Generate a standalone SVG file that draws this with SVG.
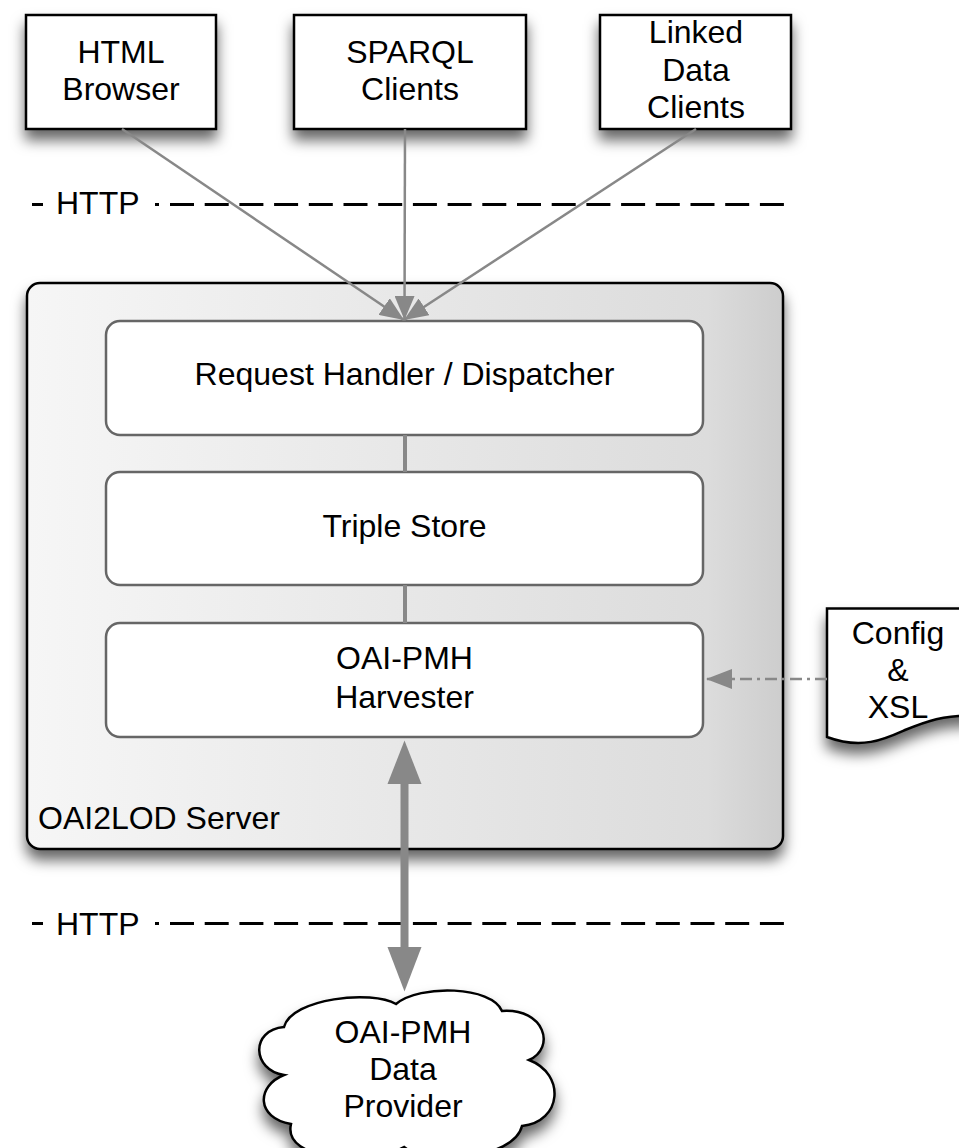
<svg xmlns="http://www.w3.org/2000/svg" width="959" height="1148" viewBox="0 0 959 1148">
<defs>
<style>
text{font-family:"Liberation Sans",Arial,Helvetica,sans-serif;font-size:32px;fill:#000}
.c{text-anchor:middle}
.box{fill:#fff;stroke:#000;stroke-width:2.5}
.inner{fill:#fff;stroke:#666;stroke-width:2.5}
.conn{stroke:#888;stroke-width:2.5;fill:none}
.http{stroke:#000;stroke-width:3;fill:none}
</style>
<linearGradient id="srv" x1="0" y1="0" x2="1" y2="0">
<stop offset="0" stop-color="#f6f6f6"/>
<stop offset="0.9" stop-color="#dcdcdc"/>
<stop offset="1" stop-color="#cdcdcd"/>
</linearGradient>
<filter id="sh" x="-20%" y="-20%" width="140%" height="160%">
<feDropShadow dx="0" dy="10" stdDeviation="7" flood-color="#000" flood-opacity="0.6"/>
</filter>
<marker id="ah" viewBox="0 0 24 20" refX="24" refY="10" markerWidth="24" markerHeight="20" markerUnits="userSpaceOnUse" orient="auto">
<path d="M0,0 L24,10 L0,20 Z" fill="#888"/>
</marker>
<marker id="ah2" viewBox="0 0 26 20" refX="26" refY="10" markerWidth="26" markerHeight="20" markerUnits="userSpaceOnUse" orient="auto">
<path d="M0,0 L26,10 L0,20 Z" fill="#888"/>
</marker>
</defs>
<rect width="959" height="1148" fill="#fff"/>

<g id="http-top">
<line class="http" x1="32" y1="204.5" x2="43" y2="204.5"/>
<line class="http" x1="155" y1="204.5" x2="159" y2="204.5"/>
<line class="http" x1="170" y1="204.5" x2="784" y2="204.5" stroke-dasharray="24 10.7"/>
<text x="56" y="213.5">HTTP</text>
</g>
<g id="http-bottom">
<line class="http" x1="32" y1="923.5" x2="43" y2="923.5"/>
<line class="http" x1="155" y1="923.5" x2="159" y2="923.5"/>
<line class="http" x1="170" y1="923.5" x2="784" y2="923.5" stroke-dasharray="24 10.7"/>
<text x="56" y="935">HTTP</text>
</g>

<g id="html-browser">
<rect class="box" x="26" y="15" width="190" height="114" filter="url(#sh)"/>
<text class="c" x="121" y="63">HTML</text>
<text class="c" x="121" y="100">Browser</text>
</g>
<g id="sparql-clients">
<rect class="box" x="294" y="15" width="232" height="114" filter="url(#sh)"/>
<text class="c" x="410" y="63">SPARQL</text>
<text class="c" x="410" y="100">Clients</text>
</g>
<g id="linked-data-clients">
<rect class="box" x="600" y="15" width="191" height="114" filter="url(#sh)"/>
<text class="c" x="696" y="43">Linked</text>
<text class="c" x="696" y="80.5">Data</text>
<text class="c" x="696" y="118">Clients</text>
</g>

<g id="oai2lod-server">
<rect x="27" y="283" width="756" height="566" rx="13" fill="url(#srv)" stroke="#000" stroke-width="2.5" filter="url(#sh)"/>
<text x="38" y="829">OAI2LOD Server</text>
</g>
<g id="request-handler">
<rect class="inner" x="106" y="321" width="597" height="114" rx="14"/>
<text class="c" x="404.5" y="385">Request Handler / Dispatcher</text>
</g>
<g id="triple-store">
<rect class="inner" x="106" y="472" width="597" height="113" rx="14"/>
<text class="c" x="404.5" y="537">Triple Store</text>
</g>
<g id="harvester">
<rect class="inner" x="106" y="623" width="597" height="114" rx="14"/>
<text class="c" x="404.5" y="669">OAI-PMH</text>
<text class="c" x="404.5" y="707.5">Harvester</text>
</g>

<g id="config-xsl">
<path d="M827,608.5 H975 V716 C945,714 925,722 905,730 C885,739 862,750 827,737 Z" fill="#fff" stroke="#000" stroke-width="2.5" filter="url(#sh)"/>
<text class="c" x="898" y="644">Config</text>
<text class="c" x="898" y="681">&amp;</text>
<text class="c" x="898" y="718">XSL</text>
</g>

<g id="data-provider">
<path d="M284,1075 C252,1070 250,1030 284,1027 C292,998 372,990 396,1004 C420,984 492,986 502,1011 C545,1008 556,1048 529,1060 C566,1074 562,1122 522,1126 C514,1160 424,1166 404,1147 C372,1166 282,1162 291,1124 C256,1118 256,1086 284,1075 Z" fill="#fff" stroke="#000" stroke-width="2.5" filter="url(#sh)"/>
<text class="c" x="403" y="1043">OAI-PMH</text>
<text class="c" x="403" y="1080">Data</text>
<text class="c" x="403" y="1117">Provider</text>
</g>

<g id="connectors">
<line class="conn" x1="122" y1="129" x2="404" y2="320" marker-end="url(#ah)"/>
<line class="conn" x1="405" y1="129" x2="404.5" y2="320" marker-end="url(#ah)"/>
<line class="conn" x1="696" y1="129" x2="404" y2="320" marker-end="url(#ah)"/>
<line stroke="#888" stroke-width="4" x1="405" y1="435" x2="405" y2="472"/>
<line stroke="#888" stroke-width="4" x1="405" y1="585" x2="405" y2="623"/>
<line class="conn" x1="827" y1="679" x2="706" y2="679" stroke-dasharray="12 5 3 5" marker-end="url(#ah2)"/>
<line stroke="#888" stroke-width="8" x1="404.5" y1="782" x2="404.5" y2="949"/>
<path d="M404.5,740.5 L421.5,784 L387.5,784 Z" fill="#888"/>
<path d="M404.5,991.5 L421.5,947 L387.5,947 Z" fill="#888"/>
</g>
</svg>
